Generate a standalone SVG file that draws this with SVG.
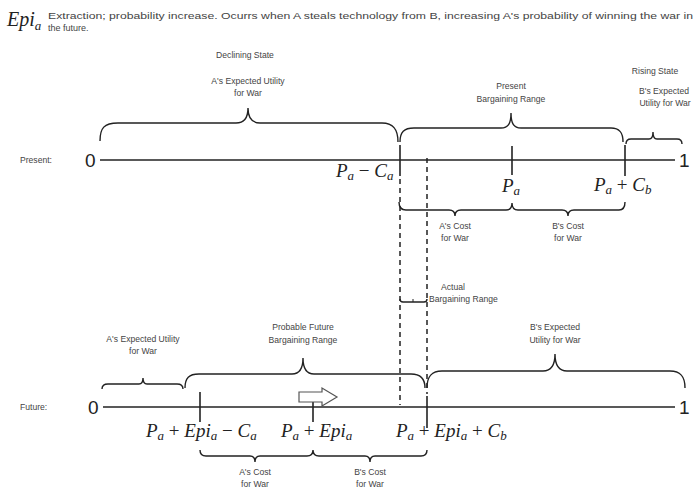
<svg xmlns="http://www.w3.org/2000/svg" width="699" height="490" viewBox="0 0 699 490">
  <style>
    .lbl { font-family: "Liberation Sans", Arial, sans-serif; font-size: 8.6px; fill: #444; text-anchor: middle; }
    .side { font-family: "Liberation Sans", Arial, sans-serif; font-size: 8.6px; fill: #444; }
    .num { font-family: "Liberation Sans", Arial, sans-serif; font-size: 19px; fill: #222; }
    .math { font-family: "Liberation Serif", "Times New Roman", serif; font-size: 19px; fill: #222; }
    .it { font-style: italic; }
    .sub { font-style: italic; font-size: 13px; }
    .axis { stroke: #222; stroke-width: 1.6; fill: none; }
    .tick { stroke: #222; stroke-width: 1.6; fill: none; }
    .brace { stroke: #222; stroke-width: 1.4; fill: none; }
    .dash { stroke: #222; stroke-width: 1.5; stroke-dasharray: 5 4; fill: none; }
  </style>

  <!-- heading -->
  <g id="heading">
    <text class="math" x="7" y="26" style="font-size:20px"><tspan class="it">Epi</tspan><tspan class="sub" dy="4" style="font-size:13px">a</tspan></text>
    <text class="side" x="48" y="19" style="font-size:9px" textLength="645" lengthAdjust="spacingAndGlyphs">Extraction; probability increase. Ocurrs when A steals technology from B, increasing A's probability of winning the war in</text>
    <text class="side" x="48" y="31" style="font-size:9px">the future.</text>
  </g>

  <!-- present timeline -->
  <g id="present-axis">
    <text class="side" x="20" y="163">Present:</text>
    <text class="num" x="85" y="167">0</text>
    <line class="axis" x1="100" y1="160" x2="675" y2="160"/>
    <text class="num" x="679" y="167">1</text>
  </g>

  <g id="present-ticks">
    <line class="tick" x1="400" y1="145" x2="400" y2="176"/>
    <line class="tick" x1="512" y1="146" x2="512" y2="175"/>
    <line class="tick" x1="625" y1="145" x2="625" y2="176"/>
    <text class="math" x="336" y="177"><tspan class="it">P</tspan><tspan class="sub" dy="3">a</tspan><tspan dy="-3"> − </tspan><tspan class="it">C</tspan><tspan class="sub" dy="3">a</tspan></text>
    <text class="math" x="502" y="192"><tspan class="it">P</tspan><tspan class="sub" dy="3">a</tspan></text>
    <text class="math" x="594" y="191"><tspan class="it">P</tspan><tspan class="sub" dy="3">a</tspan><tspan dy="-3"> + </tspan><tspan class="it">C</tspan><tspan class="sub" dy="3">b</tspan></text>
  </g>

  <g id="declining-state">
    <text class="lbl" x="245" y="58">Declining State</text>
    <text class="lbl" x="248" y="84">A's Expected Utility</text>
    <text class="lbl" x="248" y="96">for War</text>
    <path class="brace" d="M100,141 C100,128 104,123 118,123 L236,123 C244,123 248,118 248,108 C248,118 252,123 260,123 L382,123 C394,123 398,130 398,142"/>
  </g>

  <g id="present-bargaining-range">
    <text class="lbl" x="511" y="89">Present</text>
    <text class="lbl" x="511" y="102">Bargaining Range</text>
    <path class="brace" d="M400,142 C400,132 404,128 414,128 L501,128 C508,128 511,124 511,113 C511,124 514,128 521,128 L611,128 C620,128 623,133 623,142"/>
  </g>

  <g id="rising-state">
    <text class="lbl" x="655" y="74">Rising State</text>
    <text class="lbl" x="664" y="94">B's Expected</text>
    <text class="lbl" x="665" y="106">Utility  for War</text>
    <path class="brace" d="M626,144 C626,141 628,139 631,139 L649,139 C652,139 653,137 653,132 C653,137 654,139 657,139 L677,139 C680,139 682,141 682,144"/>
  </g>

  <g id="present-costs">
    <path class="brace" d="M399,202 C399,207 401,210 406,210 L449,210 C453,210 455,212 455,216 C455,212 457,210 461,210 L506,210 C510,210 512,207 512,203 C512,207 514,210 518,210 L562,210 C566,210 568,212 568,216 C568,212 570,210 574,210 L619,210 C623,210 625,207 625,202"/>
    <text class="lbl" x="455" y="229">A's Cost</text>
    <text class="lbl" x="455" y="241">for War</text>
    <text class="lbl" x="568" y="229">B's Cost</text>
    <text class="lbl" x="568" y="241">for War</text>
  </g>

  <!-- connectors between the two timelines -->
  <g id="connectors">
    <line class="dash" x1="400" y1="179" x2="400" y2="405"/>
    <line class="dash" x1="427" y1="158" x2="427" y2="394"/>
  </g>

  <g id="actual-bargaining-range">
    <path class="brace" d="M400,299 C400,301 401,302 403,302 L424,302 C426,302 427,301 427,299"/>
    <line class="tick" x1="413" y1="302" x2="413" y2="299" style="stroke-width:1"/>
    <text class="side" x="441" y="290">Actual</text>
    <text class="side" x="429" y="302">Bargaining Range</text>
  </g>

  <!-- future timeline -->
  <g id="future-axis">
    <text class="side" x="20" y="410">Future:</text>
    <text class="num" x="88" y="414">0</text>
    <line class="axis" x1="103" y1="407" x2="675" y2="407"/>
    <text class="num" x="679" y="414">1</text>
  </g>

  <g id="future-ticks">
    <line class="tick" x1="200" y1="392" x2="200" y2="422"/>
    <line class="tick" x1="313" y1="395" x2="313" y2="422"/>
    <line class="tick" x1="427" y1="396" x2="427" y2="428"/>
    <text class="math" x="146" y="437"><tspan class="it">P</tspan><tspan class="sub" dy="3">a</tspan><tspan dy="-3"> + </tspan><tspan class="it">Epi</tspan><tspan class="sub" dy="3">a</tspan><tspan dy="-3"> − </tspan><tspan class="it">C</tspan><tspan class="sub" dy="3">a</tspan></text>
    <text class="math" x="281" y="437"><tspan class="it">P</tspan><tspan class="sub" dy="3">a</tspan><tspan dy="-3"> + </tspan><tspan class="it">Epi</tspan><tspan class="sub" dy="3">a</tspan></text>
    <text class="math" x="396" y="437"><tspan class="it">P</tspan><tspan class="sub" dy="3">a</tspan><tspan dy="-3"> + </tspan><tspan class="it">Epi</tspan><tspan class="sub" dy="3">a</tspan><tspan dy="-3"> + </tspan><tspan class="it">C</tspan><tspan class="sub" dy="3">b</tspan></text>
  </g>

  <g id="shift-arrow">
    <polygon points="299,392 322,392 322,388 337,397 322,406 322,402 299,402" fill="#fff" stroke="#555" stroke-width="1.2"/>
  </g>

  <g id="future-a-utility">
    <text class="lbl" x="143" y="342">A's Expected Utility</text>
    <text class="lbl" x="143" y="354">for War</text>
    <path class="brace" d="M102,389 C102,386 104,384 108,384 L139,384 C142,384 143,382 143,378 C143,382 144,384 147,384 L177,384 C181,384 183,386 183,389"/>
  </g>

  <g id="future-bargaining-range">
    <text class="lbl" x="303" y="330">Probable Future</text>
    <text class="lbl" x="303" y="343">Bargaining Range</text>
    <path class="brace" d="M185,388 C185,378 189,374 199,374 L292,374 C299,374 303,369 303,358 C303,369 307,374 314,374 L411,374 C421,374 425,379 425,388"/>
  </g>

  <g id="future-b-utility">
    <text class="lbl" x="555" y="330">B's Expected</text>
    <text class="lbl" x="555" y="343">Utility  for War</text>
    <path class="brace" d="M427,388 C427,377 431,371 442,371 L543,371 C551,371 555,366 555,354 C555,366 559,371 567,371 L670,371 C681,371 685,377 685,388"/>
  </g>

  <g id="future-costs">
    <path class="brace" d="M200,450 C200,454 202,456 206,456 L250,456 C253,456 255,458 255,462 C255,458 257,456 260,456 L307,456 C311,456 313,454 313,450 C313,454 315,456 319,456 L365,456 C368,456 370,458 370,462 C370,458 372,456 375,456 L421,456 C425,456 427,454 427,450"/>
    <text class="lbl" x="255" y="475">A's Cost</text>
    <text class="lbl" x="255" y="487">for War</text>
    <text class="lbl" x="370" y="475">B's Cost</text>
    <text class="lbl" x="370" y="487">for War</text>
  </g>
</svg>
